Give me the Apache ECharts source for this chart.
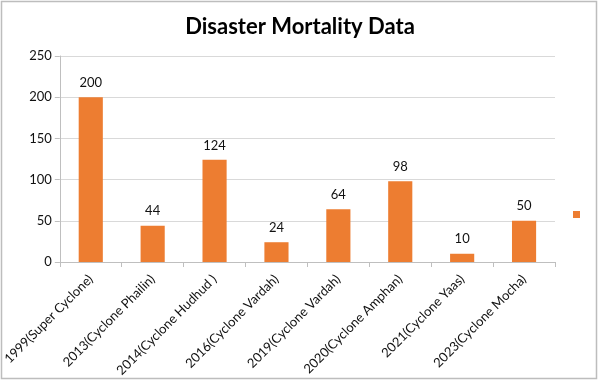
<!DOCTYPE html>
<html><head><meta charset="utf-8">
<script src="https://cdn.jsdelivr.net/npm/echarts@6/dist/echarts.min.js"></script>
<style>html,body{margin:0;padding:0;background:#fff}#c{width:600px;height:380px}</style>
</head><body><div id="c"></div>
<script>
const categories = ["1999(Super Cyclone)","2013(Cyclone Phailin)","2014(Cyclone Hudhud )","2016(Cyclone Vardah)","2019(Cyclone Vardah)","2020(Cyclone Amphan)","2021(Cyclone Yaas)","2023(Cyclone Mocha)"];
const deaths = [200,44,124,24,64,98,10,50];
const yTicks = [0,50,100,150,200,250];
const chart = echarts.init(document.getElementById('c'));
const font = "Lato, 'Open Sans', sans-serif";
chart.setOption({
  animation:false,
  title:{text:"Disaster Mortality Data",left:'center',top:11,textStyle:{fontFamily:font,fontSize:22,fontWeight:'bold',color:'#000'}},
  legend:{show:true,right:15,top:206,itemWidth:7,itemHeight:7,icon:'rect',data:[{name:'Deaths'}],formatter:()=>'',textStyle:{fontSize:1}},
  graphic:[{type:'rect',shape:{x:1.5,y:1.5,width:595,height:377},style:{fill:'none',stroke:'#bdbdbd',lineWidth:1.5},silent:true}],
  grid:{left:59,right:45,top:56,bottom:118},
  xAxis:{type:'category',data:categories,
    axisLine:{lineStyle:{color:'#bfbfbf'}},
    axisTick:{show:true,length:5,lineStyle:{color:'#bfbfbf'}},
    axisLabel:{rotate:45,interval:0,fontFamily:font,fontSize:13,color:'#111',margin:15}},
  yAxis:{type:'value',min:0,max:250,interval:50,
    axisLine:{show:true,lineStyle:{color:'#bfbfbf'}},
    axisTick:{show:true,length:5,lineStyle:{color:'#bfbfbf'}},
    splitLine:{lineStyle:{color:'#d9d9d9'}},
    axisLabel:{fontFamily:font,fontSize:13,color:'#111',margin:8,formatter:v=>yTicks.includes(v)?String(v):''}},
  series:[{name:'Deaths',type:'bar',data:deaths,barWidth:'39%',itemStyle:{color:'#ED7D31'},
    label:{show:true,position:'top',distance:8,fontFamily:font,fontSize:13,color:'#111'}}]
});
</script></body></html>
